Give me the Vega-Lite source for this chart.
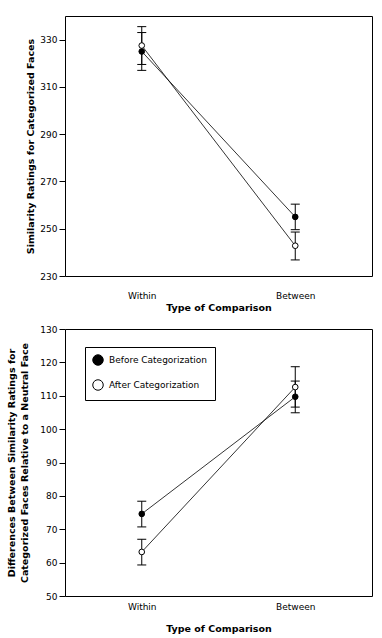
{
  "$schema": "https://vega.github.io/schema/vega-lite/v6.json",
  "padding": {"left": 6, "top": 15, "right": 5, "bottom": 2},
  "background": "white",
  "spacing": 12,
  "config": {
    "view": {"stroke": "black", "strokeWidth": 1},
    "font": "DejaVu Sans",
    "axis": {
      "domain": false, "grid": false,
      "labelFont": "DejaVu Sans", "labelFontSize": 9, "labelColor": "black",
      "titleFont": "DejaVu Sans", "titleFontSize": 9.5, "titleFontWeight": "bold", "titleColor": "black",
      "tickColor": "black", "labelOverlap": false
    },
    "axisY": {"tickSize": 6, "labelPadding": 2, "labelOverlap": false},
    "axisX": {"ticks": false, "tickSize": 0, "labelAngle": 0}
  },
  "datasets": {
    "top": [
      {"cond": "Before Categorization", "comp": "Within", "mean": 325, "lo": 317, "hi": 333},
      {"cond": "After Categorization", "comp": "Within", "mean": 327.5, "lo": 319.5, "hi": 335.5},
      {"cond": "Before Categorization", "comp": "Between", "mean": 255, "lo": 249.6, "hi": 260.4},
      {"cond": "After Categorization", "comp": "Between", "mean": 242.8, "lo": 236.8, "hi": 248.6}
    ],
    "bottom": [
      {"cond": "Before Categorization", "comp": "Within", "mean": 74.6, "lo": 70.7, "hi": 78.4},
      {"cond": "After Categorization", "comp": "Within", "mean": 63.2, "lo": 59.3, "hi": 67.0},
      {"cond": "Before Categorization", "comp": "Between", "mean": 109.7, "lo": 104.9, "hi": 114.4},
      {"cond": "After Categorization", "comp": "Between", "mean": 112.6, "lo": 106.6, "hi": 118.7}
    ]
  },
  "vconcat": [
    {
      "width": 307, "height": 260,
      "data": {"name": "top"},
      "encoding": {
        "x": {"field": "comp", "type": "nominal", "sort": ["Within", "Between"],
              "scale": {"type": "point", "padding": 0.5},
              "axis": {"title": "Type of Comparison", "labelPadding": 15, "titlePadding": 2}}
      },
      "layer": [
        {"mark": {"type": "line", "color": "black", "strokeWidth": 0.8},
         "encoding": {
           "y": {"field": "mean", "type": "quantitative",
                 "scale": {"domain": [230, 340], "nice": false, "zero": false},
                 "axis": {"title": "Similarity Ratings for Categorized Faces", "values": [230, 250, 270, 290, 310, 330], "titlePadding": 4, "labelOverlap": false}},
           "detail": {"field": "cond"}}},
        {"mark": {"type": "rule", "color": "black", "strokeWidth": 1},
         "encoding": {"y": {"field": "lo", "type": "quantitative", "title": "Similarity Ratings for Categorized Faces"}, "y2": {"field": "hi"}}},
        {"mark": {"type": "tick", "color": "black", "size": 9, "thickness": 1, "opacity": 1},
         "encoding": {"y": {"field": "lo", "type": "quantitative", "title": "Similarity Ratings for Categorized Faces"}}},
        {"mark": {"type": "tick", "color": "black", "size": 9, "thickness": 1, "opacity": 1},
         "encoding": {"y": {"field": "hi", "type": "quantitative", "title": "Similarity Ratings for Categorized Faces"}}},
        {"mark": {"type": "point", "filled": true, "size": 32, "stroke": "black", "strokeWidth": 1, "opacity": 1},
         "encoding": {
           "y": {"field": "mean", "type": "quantitative", "title": "Similarity Ratings for Categorized Faces"},
           "fill": {"field": "cond", "type": "nominal",
                    "scale": {"domain": ["Before Categorization", "After Categorization"], "range": ["black", "white"]},
                    "legend": null}}}
      ]
    },
    {
      "width": 307, "height": 267,
      "data": {"name": "bottom"},
      "encoding": {
        "x": {"field": "comp", "type": "nominal", "sort": ["Within", "Between"],
              "scale": {"type": "point", "padding": 0.5},
              "axis": {"title": "Type of Comparison", "labelPadding": 6, "titlePadding": 12}},
        "y": {"field": "mean", "type": "quantitative",
              "scale": {"domain": [50, 130], "nice": false, "zero": false},
              "axis": {"title": ["Differences Between Similarity Ratings for", "Categorized Faces Relative to a Neutral Face"],
                       "values": [50, 60, 70, 80, 90, 100, 110, 120, 130], "tickCount": 9,
                       "titlePadding": 10, "titleLineHeight": 13, "labelOverlap": false}}
      },
      "layer": [
        {"mark": {"type": "line", "color": "black", "strokeWidth": 0.8},
         "encoding": {"detail": {"field": "cond"}}},
        {"mark": {"type": "rule", "color": "black", "strokeWidth": 1},
         "encoding": {"y": {"field": "lo", "type": "quantitative",
                            "axis": {"title": ["Differences Between Similarity Ratings for", "Categorized Faces Relative to a Neutral Face"],
                                     "values": [50, 60, 70, 80, 90, 100, 110, 120, 130], "tickCount": 9,
                                     "titlePadding": 10, "titleLineHeight": 13, "labelOverlap": false}},
                      "y2": {"field": "hi"}}},
        {"mark": {"type": "tick", "color": "black", "size": 9, "thickness": 1, "opacity": 1},
         "encoding": {"y": {"field": "lo", "type": "quantitative",
                            "axis": {"title": ["Differences Between Similarity Ratings for", "Categorized Faces Relative to a Neutral Face"],
                                     "values": [50, 60, 70, 80, 90, 100, 110, 120, 130], "tickCount": 9,
                                     "titlePadding": 10, "titleLineHeight": 13, "labelOverlap": false}}}},
        {"mark": {"type": "tick", "color": "black", "size": 9, "thickness": 1, "opacity": 1},
         "encoding": {"y": {"field": "hi", "type": "quantitative",
                            "axis": {"title": ["Differences Between Similarity Ratings for", "Categorized Faces Relative to a Neutral Face"],
                                     "values": [50, 60, 70, 80, 90, 100, 110, 120, 130], "tickCount": 9,
                                     "titlePadding": 10, "titleLineHeight": 13, "labelOverlap": false}}}},
        {"mark": {"type": "point", "filled": true, "size": 32, "stroke": "black", "strokeWidth": 1, "opacity": 1},
         "encoding": {
           "fill": {"field": "cond", "type": "nominal",
                    "scale": {"domain": ["Before Categorization", "After Categorization"], "range": ["black", "white"]},
                    "legend": {"orient": "none", "legendX": 20, "legendY": 18, "title": null,
                               "strokeColor": "black", "padding": 7, "symbolSize": 110,
                               "symbolType": "circle", "symbolStrokeColor": "black", "symbolStrokeWidth": 1,
                               "labelFont": "DejaVu Sans", "labelFontSize": 9, "labelColor": "black",
                               "rowPadding": 9, "labelOffset": 5, "fillColor": "white"}}}}
      ]
    }
  ],
  "resolve": {"scale": {"fill": "independent"}, "legend": {"fill": "independent"}}
}
